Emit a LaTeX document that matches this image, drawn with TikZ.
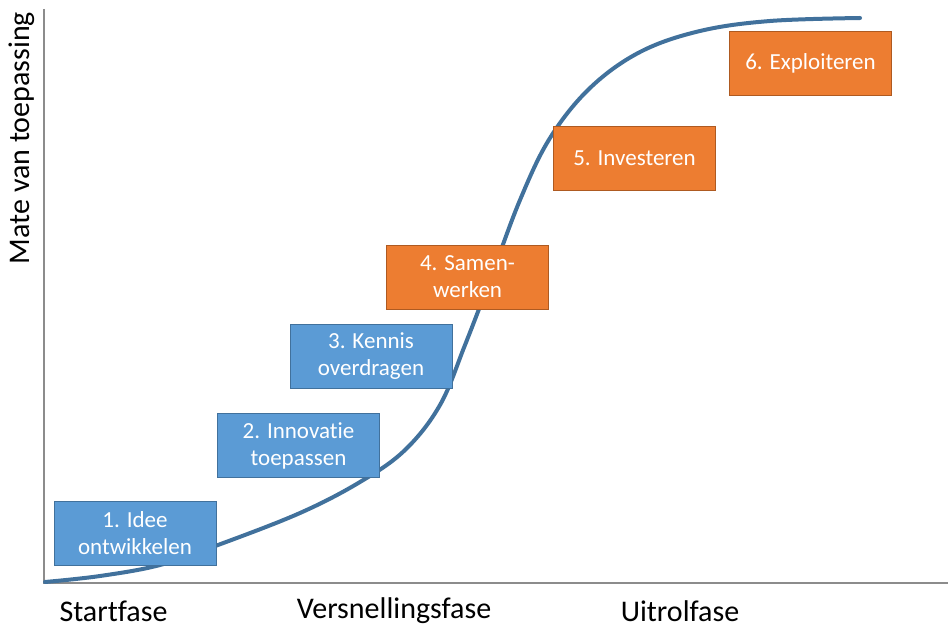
\documentclass[tikz,border=0pt]{standalone}
\usepackage{fontspec}
\setmainfont[Ligatures=NoCommon]{Carlito}
\definecolor{bluefill}{HTML}{5B9BD5}
\definecolor{blueedge}{HTML}{41719C}
\definecolor{orfill}{HTML}{ED7D31}
\definecolor{oredge}{HTML}{AE5A21}
\definecolor{curvec}{HTML}{41719C}
\definecolor{axisc}{HTML}{8C8C8C}
\begin{document}
\begin{tikzpicture}[x=1pt,y=-1pt,
  phasebox/.style={draw=#1, line width=1pt, minimum width=162pt, minimum height=64pt, inner sep=0pt, align=center, text=white, font=\fontsize{23}{27}\selectfont},
  bluebox/.style={phasebox=blueedge, fill=bluefill},
  orangebox/.style={phasebox=oredge, fill=orfill},
  axislabel/.style={font=\fontsize{30}{34}\selectfont, text=black, inner sep=0pt}]
\useasboundingbox (0,0) rectangle (949,628);
\coordinate (origin) at (44,583);
\coordinate (ytop) at (44,9);
\coordinate (xend) at (948,583);
\draw[axisc, line width=1.5pt] (ytop) -- (origin) -- (xend);
\draw[curvec, line width=4pt, line cap=round] plot[smooth, tension=0.6] coordinates {
 (45,582) (100,576) (160,565) (218,545) (300,513) (360,482) (405,450) (440,405) (465,345) (490,280) (520,200) (550,138) (590,88) (640,52) (700,31) (770,21) (860,18)};
\node[bluebox] (b1) at (135,533) {1. Idee\\ontwikkelen};
\node[bluebox] (b2) at (298.5,445.5) {2. Innovatie\\toepassen};
\node[bluebox] (b3) at (371,356.5) {3. Kennis\\overdragen};
\node[orangebox] (b4) at (467.5,277) {4. Samen-\\werken};
\node[orangebox] (b5) at (634.5,158.5) {5. Investeren};
\node[orangebox] (b6) at (810.5,63.5) {6. Exploiteren};
\node[axislabel] (l1) at (113.5,611) {Startfase};
\node[axislabel] (l2) at (394,611) {Versnellingsfase};
\node[axislabel] (l3) at (680,611) {Uitrolfase};
\node[axislabel, rotate=90] (ly) at (22,138) {Mate van toepassing};
\end{tikzpicture}
\end{document}
